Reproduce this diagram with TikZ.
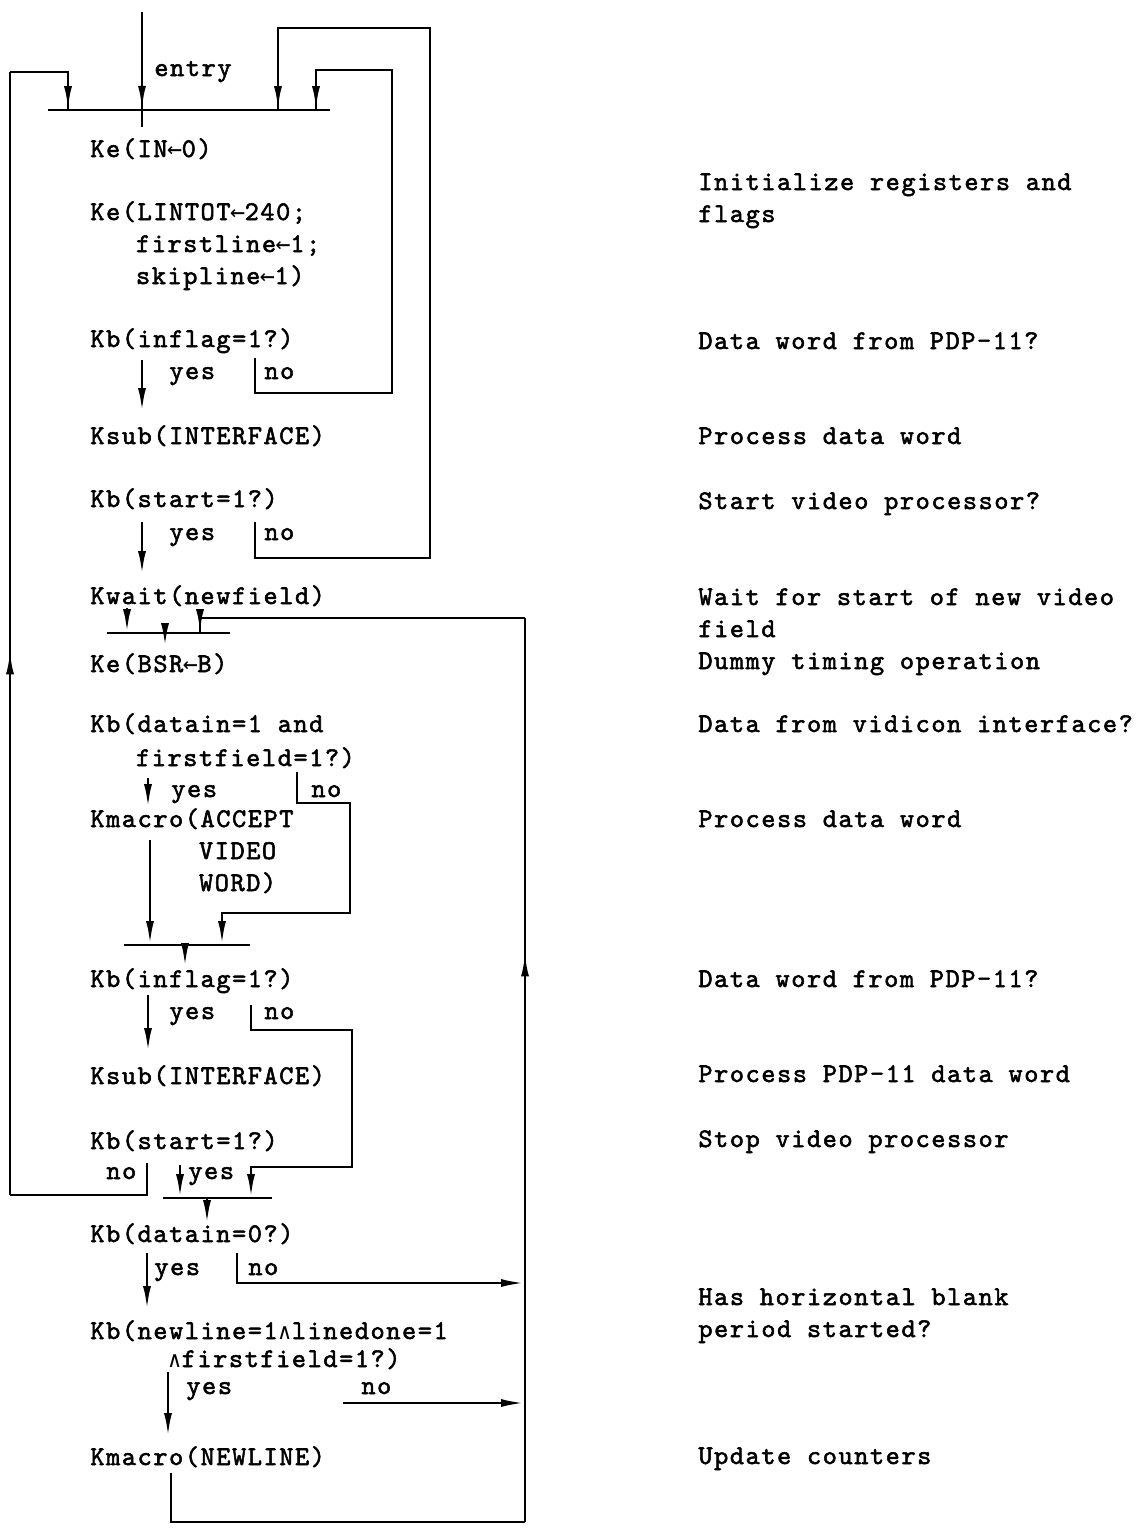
\documentclass[tikz,border=0pt]{standalone}
\usepackage{fontspec}
\usepackage{tikz}
\usetikzlibrary{arrows.meta,decorations.markings}
\newfontfamily\typew[FakeBold=2,LetterSpace=5.8]{lmmono10-regular.otf}
\newfontfamily\symw{DejaVu Sans Mono}
\newcommand{\stmt}[1]{\begin{tabular}[t]{@{}l@{}}#1\end{tabular}}
\newcommand{\cell}[2]{\sbox0{0}\makebox[\wd0]{\symw\fontsize{#1}{#1}\selectfont #2}}
\newcommand{\getsym}{\cell{12.5}{←}}
\newcommand{\andsym}{\cell{11}{∧}}

\begin{document}
\begin{tikzpicture}[x=0.5pt,y=-0.5pt,line width=1.4pt,line join=miter,
	>={Latex[length=12pt,width=4pt]},
	txt/.style={anchor=base west,inner sep=0pt,font=\typew\fontsize{13.5}{16}\selectfont},
	midarrow/.style={postaction={decorate},decoration={markings,mark=at position #1 with {\arrow{>}}}}]
	\useasboundingbox (0,0) rectangle (1144,1533);
	% Junction bars
	\coordinate (ja1) at (48,110);   \coordinate (ja2) at (330,110);
	\coordinate (jb1) at (107,633);  \coordinate (jb2) at (230,633);
	\coordinate (jc1) at (124,945);  \coordinate (jc2) at (250,945);
	\coordinate (jd1) at (163,1198); \coordinate (jd2) at (272,1198);
	% Corners of the loops
	\coordinate (entrytop) at (142,12);
	\coordinate (entrybot) at (142,127);
	\coordinate (leftbot) at (10,1195);
	\coordinate (lefttop) at (10,72);
	\coordinate (leftin) at (68,110);
	\coordinate (outertop) at (430,28);
	\coordinate (outerin) at (278,110);
	\coordinate (innertop) at (392,70);
	\coordinate (innerin) at (316,110);
	\coordinate (rightbot) at (525,1522);
	\coordinate (righttop) at (525,618);
	\coordinate (fieldin) at (200,633);

	% Program steps
	\node[txt] (entry) at (153,76) {entry};
	\node[txt] (init1) at (89,157) {Ke(IN\getsym 0)};
	\node[txt] (init2) at (89,220) {\stmt{Ke(LINTOT\getsym 240;\\\phantom{Ke(}firstline\getsym 1;\\\phantom{Ke(}skipline\getsym 1)}};
	\node[txt] (inflagA) at (89,347) {Kb(inflag=1?)};
	\node[txt] (yesA) at (168,379) {yes};
	\node[txt] (noA) at (263,379) {no};
	\node[txt] (ksubA) at (89,444) {Ksub(INTERFACE)};
	\node[txt] (startA) at (89,507) {Kb(start=1?)};
	\node[txt] (yesB) at (168,540) {yes};
	\node[txt] (noB) at (263,540) {no};
	\node[txt] (kwait) at (89,604) {Kwait(newfield)};
	\node[txt] (bsr) at (89,672) {Ke(BSR\getsym B)};
	\node[txt,font=\typew\fontsize{13.5}{17}\selectfont] (datain) at (89,732) {\stmt{Kb(datain=1 and\\\phantom{Kb(}firstfield=1?)}};
	\node[txt] (yesC) at (170,797) {yes};
	\node[txt] (noC) at (310,797) {no};
	\node[txt] (accept) at (89,827) {\stmt{Kmacro(ACCEPT\\\phantom{Kmacro(}VIDEO\\\phantom{Kmacro(}WORD)}};
	\node[txt] (inflagB) at (89,987) {Kb(inflag=1?)};
	\node[txt] (yesD) at (168,1019) {yes};
	\node[txt] (noD) at (263,1019) {no};
	\node[txt] (ksubB) at (89,1084) {Ksub(INTERFACE)};
	\node[txt] (startB) at (89,1149) {Kb(start=1?)};
	\node[txt] (noE) at (105,1179) {no};
	\node[txt] (yesE) at (187,1179) {yes};
	\node[txt] (dataoff) at (89,1242) {Kb(datain=0?)};
	\node[txt] (yesF) at (153,1275) {yes};
	\node[txt] (noF) at (247,1275) {no};
	\node[txt,font=\typew\fontsize{13.5}{14}\selectfont] (newline) at (89,1339) {\stmt{Kb(newline=1\andsym linedone=1\\\phantom{Kb(ne}\andsym firstfield=1?)}};
	\node[txt] (yesG) at (185,1394) {yes};
	\node[txt] (noG) at (360,1394) {no};
	\node[txt] (update) at (89,1465) {Kmacro(NEWLINE)};

	% Comments
	\node[txt] (c1) at (697,190) {\stmt{Initialize registers and\\flags}};
	\node[txt] (c2) at (697,349) {Data word from PDP-11?};
	\node[txt] (c3) at (697,444) {Process data word};
	\node[txt] (c4) at (697,509) {Start video processor?};
	\node[txt] (c5) at (697,605) {\stmt{Wait for start of new video\\field}};
	\node[txt] (c6) at (697,669) {Dummy timing operation};
	\node[txt] (c7) at (697,732) {Data from vidicon interface?};
	\node[txt] (c8) at (697,827) {Process data word};
	\node[txt] (c9) at (697,987) {Data word from PDP-11?};
	\node[txt] (c10) at (697,1082) {Process PDP-11 data word};
	\node[txt] (c11) at (697,1147) {Stop video processor};
	\node[txt] (c12) at (697,1305) {\stmt{Has horizontal blank\\period started?}};
	\node[txt] (c13) at (697,1464) {Update counters};

	% Draw the junction bars
	\draw (ja1) -- (ja2);
	\draw (jb1) -- (jb2);
	\draw (jc1) -- (jc2);
	\draw (jd1) -- (jd2);

	% Entry and the loops back to the top
	\draw[midarrow=0.85] (entrytop) -- (entrybot);
	\draw[->] (142,360) -- (142,412);
	\draw (255,358) |- (392,393) -- (innertop) -| (innerin);
	\draw[->] (316,85) -- (innerin);
	\draw[->] (142,522) -- (142,575);
	\draw (255,522) |- (430,558) -- (outertop) -| (outerin);
	\draw[->] (278,85) -- (outerin);
	\draw (147,1163) |- (leftbot);
	\draw[midarrow=0.485] (leftbot) -- (lefttop);
	\draw (lefttop) -| (leftin);
	\draw[->] (68,85) -- (leftin);

	% New field
	\draw[->] (127,608) -- (127,633);
	\draw[->] (165,633) -- (165,647);
	\draw (171,1473) |- (rightbot);
	\draw[midarrow=0.63] (rightbot) -- (righttop);
	\draw (righttop) -| (fieldin);
	\draw[->] (200,620) -- (fieldin);

	% Vidicon data
	\draw[->] (148,778) -- (148,808);
	\draw (297,772) |- (350,803) |- (222,913) -- (222,925);
	\draw[->] (222,920) -- (222,945);
	\draw[->] (150,840) -- (150,945);
	\draw[->] (185,945) -- (185,967);

	% PDP-11 data and stop
	\draw[->] (148,995) -- (148,1052);
	\draw (251,1005) |- (352,1030) |- (251,1167) -- (251,1175);
	\draw[->] (251,1170) -- (251,1198);
	\draw[->] (180,1165) -- (180,1198);
	\draw[->] (207,1198) -- (207,1224);

	% Horizontal blank
	\draw[->] (147,1253) -- (147,1310);
	\draw[->] (237,1253) |- (525,1283);
	\draw[->] (168,1372) -- (168,1437);
	\draw[->] (343,1403) -- (525,1403);
\end{tikzpicture}
\end{document}
